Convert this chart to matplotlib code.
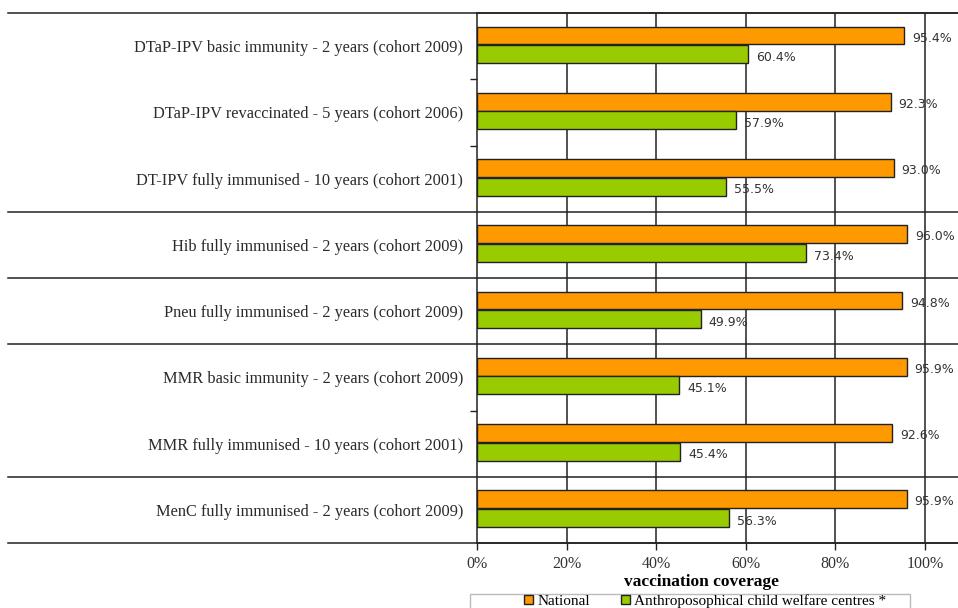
import matplotlib
matplotlib.use("Agg")
import matplotlib.pyplot as plt
from matplotlib.patches import Patch, Rectangle

categories = [
    "DTaP-IPV basic immunity - 2 years (cohort 2009)",
    "DTaP-IPV revaccinated - 5 years (cohort 2006)",
    "DT-IPV fully immunised - 10 years (cohort 2001)",
    "Hib fully immunised - 2 years (cohort 2009)",
    "Pneu fully immunised - 2 years (cohort 2009)",
    "MMR basic immunity - 2 years (cohort 2009)",
    "MMR fully immunised - 10 years (cohort 2001)",
    "MenC fully immunised - 2 years (cohort 2009)",
]
national = [95.4, 92.3, 93.0, 96.0, 94.8, 95.9, 92.6, 95.9]
anthro = [60.4, 57.9, 55.5, 73.4, 49.9, 45.1, 45.4, 56.3]
group_breaks = [2.5, 3.5, 4.5, 6.5]

orange = "#FF9900"
green = "#99CC00"
serif = "Liberation Serif"

fig = plt.figure(figsize=(9.58, 6.08), dpi=100)
ax = fig.add_axes([477 / 958, 1 - 543 / 608, 481 / 958, 530 / 608])

y = list(range(len(categories)))
h = 0.27
ax.barh([v - 0.16 for v in y], national, height=h, color=orange,
        edgecolor="#222222", linewidth=1, zorder=3)
ax.barh([v + 0.12 for v in y], anthro, height=h, color=green,
        edgecolor="#222222", linewidth=1, zorder=3)

for i in y:
    ax.text(national[i] + 1.8, i - 0.12, "%.1f%%" % national[i], va="center",
            ha="left", fontsize=9, color="#333333", clip_on=False, zorder=4)
    ax.text(anthro[i] + 1.8, i + 0.17, "%.1f%%" % anthro[i], va="center",
            ha="left", fontsize=9, color="#333333", clip_on=False, zorder=4)

ax.set_xlim(0, 481 / 448 * 100)
ax.set_ylim(7.5, -0.5)

ax.set_xticks([0, 20, 40, 60, 80, 100])
ax.set_xticklabels(["0%", "20%", "40%", "60%", "80%", "100%"],
                   fontfamily=serif, fontsize=11.5, color="#333333")
for x in [20, 40, 60, 80, 100]:
    ax.axvline(x, color="#222222", linewidth=1.1, zorder=1)

ax.set_yticks(y)
ax.set_yticklabels(categories, fontfamily=serif, fontsize=11.8, color="#2a2a2a")
ax.set_yticks([0.5, 1.5, 5.5], minor=True)
ax.tick_params(axis="y", which="major", length=0, pad=10)
ax.tick_params(axis="y", which="minor", length=5, width=1, color="#222222")
ax.tick_params(axis="x", length=5, width=1, color="#222222", pad=4)

for s in ["left", "top", "bottom"]:
    ax.spines[s].set_color("#222222")
    ax.spines[s].set_linewidth(1.1)
ax.spines["right"].set_visible(False)

left_ext = -(477 - 8) / 481
for b in [-0.5] + group_breaks + [7.5]:
    ax.axhline(b, xmin=left_ext, xmax=1, color="#222222", linewidth=1.1,
               clip_on=False, zorder=2)

ax.set_xlabel("vaccination coverage", fontfamily=serif, fontsize=12.5,
              fontweight="bold")
ax.xaxis.set_label_coords((701 - 477) / 481, -(574 - 543) / 530)

# legend frame runs past the bottom edge, like the cropped original
fig.patches.append(Rectangle((470 / 958, -10 / 608), 440 / 958, 24 / 608,
                             transform=fig.transFigure, facecolor="none",
                             edgecolor="#bbbbbb", linewidth=1, zorder=0))
handles = [Patch(facecolor=orange, edgecolor="#222222"),
           Patch(facecolor=green, edgecolor="#222222")]
fig.legend(handles, ["National", "Anthroposophical child welfare centres *"],
           loc="center", bbox_to_anchor=(705 / 958, 1 - 601 / 608),
           ncol=2, frameon=False, prop={"family": serif, "size": 11},
           handlelength=0.6, handleheight=0.6, columnspacing=2.0,
           borderpad=0, handletextpad=0.3)

fig.savefig("out.png", dpi=100)
